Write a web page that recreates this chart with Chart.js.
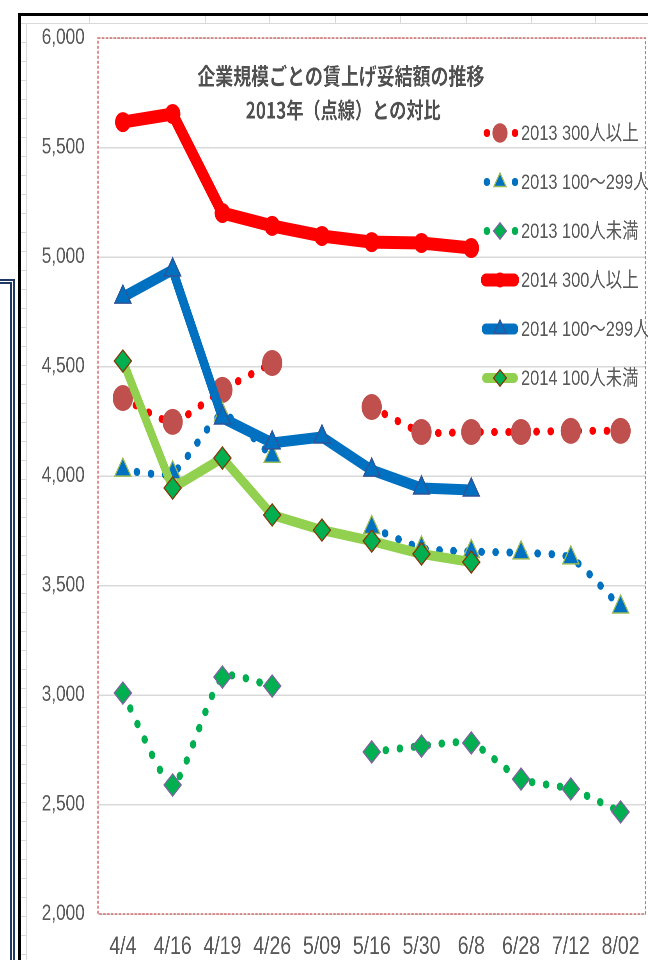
<!DOCTYPE html>
<html>
<head>
<meta charset="utf-8">
<script src="https://cdn.jsdelivr.net/npm/chart.js@4.4.0/dist/chart.umd.min.js"></script>
<style>
  html, body { margin: 0; padding: 0; background: #fff; width: 648px; height: 960px; overflow: hidden; }
  .deco { position: absolute; }
  #frame { left: 18px; top: 13px; width: 640px; height: 960px; border-left: 3px solid #000; border-top: 3px solid #000; }
  #topcells { left: 21px; top: 16px; width: 627px; height: 7px; border-bottom: 1px solid #d9d9d9; }
  #rows { left: 21px; top: 24px; width: 5px; height: 936px; border-right: 1px solid #d9d9d9;
          background: repeating-linear-gradient(to bottom, transparent 0 18px, #d9d9d9 18px 19px); }
  .vcell { top: 16px; width: 1px; height: 7px; background: #d9d9d9; }
  #blue { left: -10px; top: 279px; width: 20px; height: 700px; border-top: 5px double #1f3864; border-right: 5px double #1f3864; }
  #wrap { position: absolute; left: 0; top: 0; width: 841px; height: 960px; transform: scaleX(0.78); transform-origin: 0 0; }
</style>
</head>
<body>
<div class="deco" id="blue"></div>
<div class="deco" id="frame"></div>
<div class="deco" id="topcells"></div>
<div class="deco" id="rows"></div>
<div class="deco vcell" style="left:89px"></div>
<div class="deco vcell" style="left:205px"></div>
<div class="deco vcell" style="left:269px"></div>
<div class="deco vcell" style="left:335px"></div>
<div class="deco vcell" style="left:400px"></div>
<div class="deco vcell" style="left:466px"></div>
<div class="deco vcell" style="left:531px"></div>
<div class="deco vcell" style="left:595px"></div>
<div id="wrap"><canvas id="wageChart" width="841" height="960"></canvas></div>
<script>
// 妥結額（円）
const labels = ['4/4', '4/16', '4/19', '4/26', '5/09', '5/16', '5/30', '6/8', '6/28', '7/12', '8/02'];
const large2013 = [4356, 4247, 4393, 4516, null, 4315, 4201, 4201, 4201, 4206, 4206];
const mid2013 = [4027, 4014, 4280, 4090, null, 3765, 3671, 3655, 3649, 3626, 3402];
const small2013 = [3009, 2589, 3082, 3041, null, 2740, 2767, 2781, 2616, 2571, 2466];
const large2014 = [5616, 5653, 5201, 5142, 5096, 5068, 5064, 5041, null, null, null];
const mid2014 = [4817, 4941, 4265, 4151, 4178, 4027, 3945, 3936, null, null, null];
const small2014 = [4525, 3945, 4082, 3822, 3753, 3703, 3644, 3607, null, null, null];
const seriesNames = ['2013 300人以上', '2013 100～299人', '2013 100人未満', '2014 300人以上', '2014 100～299人', '2014 100人未満'];
const titleLines = ['企業規模ごとの賃上げ妥結額の推移', '2013年（点線）との対比'];
const yMin = 2000, yMax = 6000, yStep = 500;

const textColor = '#595959';

function dotted(label, data, color, style, fill, edge, radius, order) {
    return {
        label: label,
        data: data,
        borderColor: color,
        borderWidth: 8,
        borderDash: [0.5, 17.5],
        borderCapStyle: 'round',
        tension: 0.2,
        pointStyle: style,
        pointRadius: radius,
        pointBackgroundColor: fill,
        pointBorderColor: edge,
        pointBorderWidth: edge ? 1.5 : 0,
        order: order
    };
}

function solid(label, data, color, width, style, fill, edge, radius, order) {
    return {
        label: label,
        data: data,
        borderColor: color,
        borderWidth: width,
        borderCapStyle: 'round',
        borderJoinStyle: 'round',
        tension: 0,
        pointStyle: style,
        pointRadius: radius,
        pointBackgroundColor: fill,
        pointBorderColor: edge,
        pointBorderWidth: edge ? 1.5 : 0,
        order: order
    };
}

function drawMarker(ctx, style, x, y, r) {
    ctx.beginPath();
    if (style === 'circle') {
        ctx.arc(x, y, r, 0, Math.PI * 2);
    } else if (style === 'triangle') {
        ctx.moveTo(x, y - r);
        ctx.lineTo(x + 0.866 * r, y + 0.5 * r);
        ctx.lineTo(x - 0.866 * r, y + 0.5 * r);
    } else {
        ctx.moveTo(x, y - r);
        ctx.lineTo(x + r, y);
        ctx.lineTo(x, y + r);
        ctx.lineTo(x - r, y);
    }
    ctx.closePath();
}

const plotFrame = {
    id: 'plotFrame',
    beforeDatasetsDraw(chart) {
        const a = chart.chartArea;
        const ctx = chart.ctx;
        ctx.save();
        ctx.strokeStyle = '#d46a6a';
        ctx.lineWidth = 1.6;
        ctx.setLineDash([3, 2]);
        ctx.strokeRect(a.left, a.top, a.right - a.left, a.bottom - a.top);
        ctx.restore();
    }
};

const titleAndLegend = {
    id: 'titleAndLegend',
    afterDraw(chart) {
        const ctx = chart.ctx;
        ctx.save();
        // title
        ctx.fillStyle = '#505050';
        ctx.textAlign = 'center';
        ctx.textBaseline = 'middle';
        ctx.font = 'bold 23px "Noto Sans CJK JP", sans-serif';
        ctx.fillText(titleLines[0], 437, 76);
        ctx.font = 'bold 22px "Noto Sans CJK JP", sans-serif';
        ctx.fillText(titleLines[1], 440, 110);

        // legend
        chart.data.datasets.forEach(function(ds, i) {
            const y = 133 + i * 49;
            ctx.save();
            ctx.strokeStyle = ds.borderColor;
            ctx.lineWidth = ds.borderWidth;
            ctx.lineCap = 'round';
            if (ds.borderDash) ctx.setLineDash(ds.borderDash);
            ctx.beginPath();
            if (ds.borderDash) {
                ctx.moveTo(624, y);
                ctx.lineTo(661, y);
            } else {
                ctx.moveTo(623, y);
                ctx.lineTo(659, y);
            }
            ctx.stroke();
            ctx.setLineDash([]);
            drawMarker(ctx, ds.pointStyle, 641, y, ds.pointRadius * 0.75);
            ctx.fillStyle = ds.pointBackgroundColor;
            ctx.fill();
            if (ds.pointBorderWidth) {
                ctx.lineWidth = ds.pointBorderWidth;
                ctx.strokeStyle = ds.pointBorderColor;
                ctx.stroke();
            }
            ctx.restore();
            ctx.fillStyle = textColor;
            ctx.textAlign = 'left';
            ctx.textBaseline = 'middle';
            ctx.font = '21px "Liberation Sans", "Noto Sans CJK JP", sans-serif';
            ctx.fillText(ds.label, 668, y + 1);
        });
        ctx.restore();
    }
};

const ctx = document.getElementById('wageChart').getContext('2d');
new Chart(ctx, {
    type: 'line',
    data: {
        labels: labels,
        datasets: [
            dotted(seriesNames[0], large2013, '#ff0000', 'circle', '#c0504d', null, 13, 6),
            dotted(seriesNames[1], mid2013, '#0070c0', 'triangle', '#0070c0', '#9bbb59', 12, 5),
            dotted(seriesNames[2], small2013, '#00b050', 'rectRot', '#00b050', '#8064a2', 11, 4),
            solid(seriesNames[3], large2014, '#ff0000', 13, 'circle', '#ff0000', null, 10, 3),
            solid(seriesNames[4], mid2014, '#0070c0', 11, 'triangle', '#0070c0', '#2f5597', 12, 2),
            solid(seriesNames[5], small2014, '#92d050', 10, 'rectRot', '#00b050', '#843c0c', 11, 1)
        ]
    },
    options: {
        responsive: false,
        animation: false,
        devicePixelRatio: 2,
        layout: { padding: { left: 0, right: 4, top: 38, bottom: 0 } },
        plugins: {
            legend: { display: false },
            tooltip: { enabled: false },
            title: { display: false }
        },
        scales: {
            x: {
                offset: true,
                grid: { display: false, drawTicks: false },
                border: { display: false },
                ticks: {
                    color: textColor,
                    font: { size: 25, family: '"Liberation Sans", sans-serif' },
                    padding: 18,
                    maxRotation: 0,
                    autoSkip: false
                },
                afterFit: function(scale) {
                    scale.height = 46;
                    scale.paddingLeft = 0;
                    scale.paddingRight = 0;
                }
            },
            y: {
                min: yMin,
                max: yMax,
                grid: { color: '#d9d9d9', lineWidth: 1.5, drawTicks: false },
                border: { display: false },
                ticks: {
                    stepSize: yStep,
                    color: textColor,
                    font: { size: 22, family: '"Liberation Sans", sans-serif' },
                    padding: 17,
                    callback: function(v) { return v.toLocaleString('en-US'); }
                },
                afterFit: function(scale) { scale.width = 125.6; }
            }
        }
    },
    plugins: [plotFrame, titleAndLegend]
});
</script>
</body>
</html>
